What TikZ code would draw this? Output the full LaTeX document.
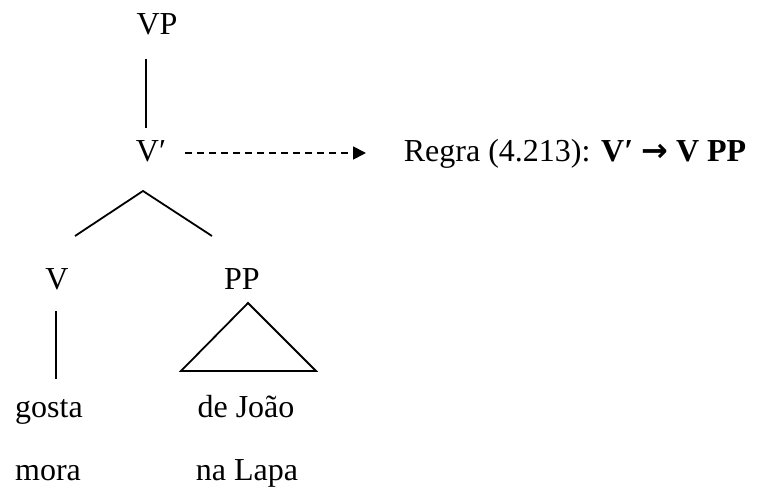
\documentclass[tikz,border=0pt]{standalone}
\usepackage{fontspec}
\setmainfont{Liberation Serif}
\newfontfamily\arrowfont{DejaVu Sans}
\usetikzlibrary{arrows.meta}
\begin{document}
\begin{tikzpicture}[x=1pt, y=-1pt, line width=1.8pt,
  lbl/.style={inner sep=0pt, anchor=base, font=\fontsize{32}{38}\selectfont},
  branch/.style={line width=1.8pt},
  rule/.style={line width=1.8pt, dash pattern=on 7pt off 5pt, -{Triangle[length=13pt, width=13pt]}}]
  \useasboundingbox (0,0) rectangle (766,489);
  % rótulos (linha de base em y)
  \node[lbl] (vp) at (157,35) {VP};
  \node[lbl] (vbar) at (151,162) {V′};
  \node[lbl] (v) at (57,289) {V};
  \node[lbl] (pp) at (242,289) {PP};
  \node[lbl] (w1) at (49,417) {gosta};
  \node[lbl] (w2) at (246,417) {de João};
  \node[lbl] (w3) at (48,480) {mora};
  \node[lbl] (w4) at (247,480) {na Lapa};
  \node[lbl, anchor=base west] (regra) at (403,162) {Regra (4.213): \textbf{V′} {\arrowfont\bfseries →} \textbf{V PP}};
  % ramos
  \coordinate (vpb) at (146,59); \coordinate (vbt) at (146,128);
  \coordinate (vbb) at (143,191);
  \coordinate (vl) at (75,236); \coordinate (vr) at (212,236);
  \coordinate (vt) at (56,311); \coordinate (vbot) at (56,379);
  \coordinate (tA) at (248,303); \coordinate (tL) at (181,371); \coordinate (tR) at (316,371);
  \coordinate (arrs) at (185,153); \coordinate (arre) at (366,153);
  \draw[branch] (vpb) -- (vbt);
  \draw[branch] (vl) -- (vbb) -- (vr);
  \draw[branch] (vt) -- (vbot);
  \draw[branch, line join=miter] (tA) -- (tL) -- (tR) -- cycle;
  \draw[rule] (arrs) -- (arre);
\end{tikzpicture}
\end{document}
